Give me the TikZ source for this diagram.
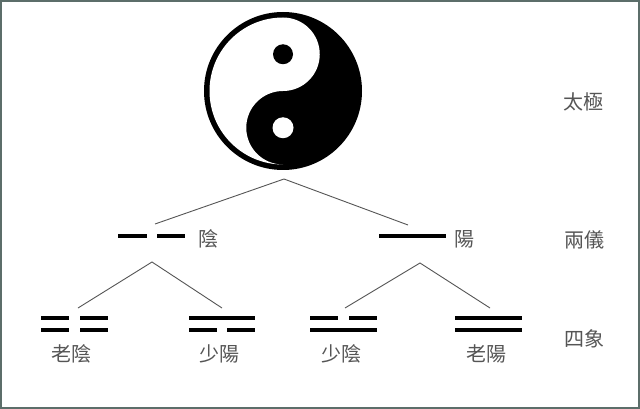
\documentclass[tikz,border=0pt]{standalone}
\usepackage{fontspec}
\newfontfamily\cjk{Noto Sans CJK TC}
\definecolor{framecol}{HTML}{5C6E6A}
\definecolor{txtcol}{HTML}{555555}
\definecolor{linecol}{HTML}{555555}
\begin{document}
\begin{tikzpicture}[x=1pt,y=-1pt,
  bar/.style={line width=4.8pt,black},
  conn/.style={draw=linecol,line width=0.9pt},
  lbl/.style={text=txtcol,font=\cjk\fontsize{20}{20}\selectfont,inner sep=0pt}]
\useasboundingbox (0,0) rectangle (640,409);
\fill[white] (0,0) rectangle (640,409);
\draw[framecol,line width=1.8pt] (0.9,0.9) rectangle (639.1,408.1);
% yin-yang
\begin{scope}[shift={(283,91)},x=1pt,y=1pt]
  \fill[black] (0,0) circle (79);
  \fill[white] (0,73.5) arc (90:270:73.5) arc (270:90:36.75) arc (-90:90:36.75) -- cycle;
  \fill[black] (0,36.75) circle (10);
  \fill[white] (0,-36.75) circle (10.5);
\end{scope}
% coordinates
\coordinate (top) at (284,179);
\coordinate (yinL) at (155,224);
\coordinate (yangR) at (408,225);
\coordinate (yinTop) at (152,262);
\coordinate (yangTop) at (420,263);
\coordinate (lyinC) at (78,308);
\coordinate (syangC) at (222,308);
\coordinate (syinC) at (345,308);
\coordinate (lyangC) at (490,308);
\draw[conn] (yinL) -- (top) -- (yangR);
\draw[conn] (lyinC) -- (yinTop) -- (syangC);
\draw[conn] (syinC) -- (yangTop) -- (lyangC);
% level 2 bars
\draw[bar] (118,236) -- (147,236);
\draw[bar] (157,236) -- (185,236);
\draw[bar] (379,236) -- (446,236);
% level 3 bars
% lao yin
\draw[bar] (41,318) -- (69,318); \draw[bar] (80,318) -- (108,318);
\draw[bar] (41,330) -- (69,330); \draw[bar] (80,330) -- (108,330);
% shao yang
\draw[bar] (189,318) -- (255,318);
\draw[bar] (189,330) -- (217,330); \draw[bar] (227,330) -- (255,330);
% shao yin
\draw[bar] (310,318) -- (338,318); \draw[bar] (349,318) -- (377,318);
\draw[bar] (310,330) -- (377,330);
% lao yang
\draw[bar] (455,318) -- (522,318);
\draw[bar] (455,330) -- (522,330);
% labels
\node[lbl] (taiji) at (583,102) {太極};
\node[lbl] (liangyi) at (584,240) {兩儀};
\node[lbl] (sixiang) at (584,339) {四象};
\node[lbl] (yin) at (208,239) {陰};
\node[lbl] (yang) at (464,239) {陽};
\node[lbl] (laoyin) at (71,354) {老陰};
\node[lbl] (shaoyang) at (219,354) {少陽};
\node[lbl] (shaoyin) at (341,354) {少陰};
\node[lbl] (laoyang) at (486,354) {老陽};
\end{tikzpicture}
\end{document}
